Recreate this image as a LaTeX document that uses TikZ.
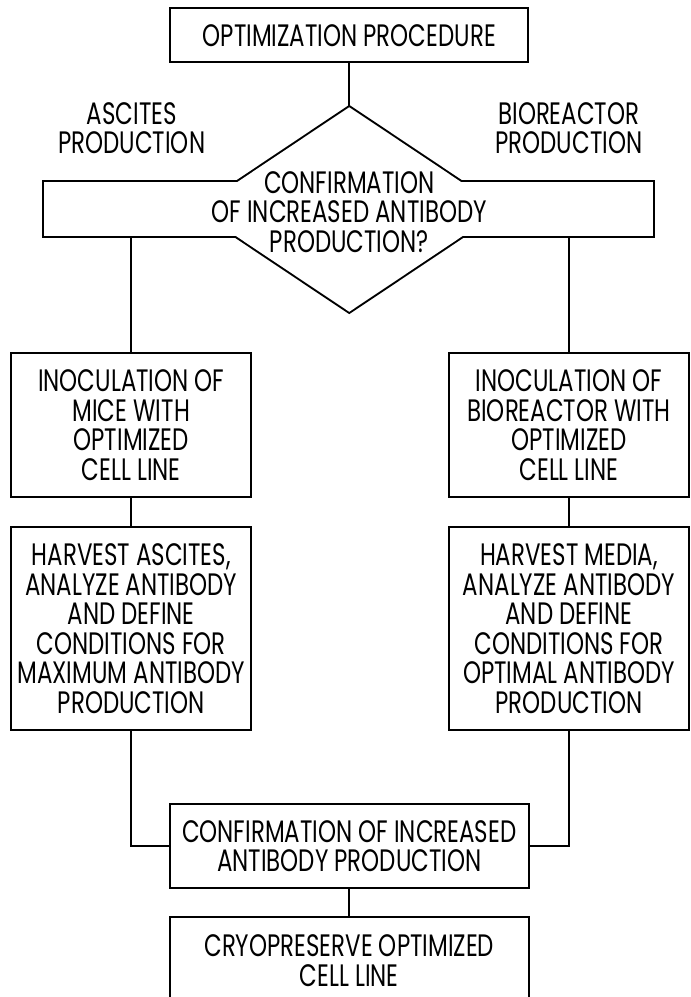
\documentclass[tikz,border=0pt]{standalone}
\usepackage{fontspec}
\setmainfont{Poppins}[FakeStretch=0.74]
\usepackage{tikz}
\usetikzlibrary{shapes.geometric}

\begin{document}
\begin{tikzpicture}[x=1pt,y=-1pt,line width=2pt,
    font=\fontsize{31pt}{29.5pt}\selectfont,
    box/.style={draw,rectangle,inner sep=0,outer sep=0,align=center},
    txt/.style={inner sep=0,align=center}]
    \path[use as bounding box,clip] (0,0) rectangle (691,997);

    \node[box,minimum width=358pt,minimum height=54pt] (opt) at (349.25,35.3) {OPTIMIZATION PROCEDURE};
    \node[txt] (asc) at (131.7,128) {ASCITES\\PRODUCTION};
    \node[txt] (bio) at (568.8,128) {BIOREACTOR\\PRODUCTION};

    \node[box,line width=4pt,minimum width=609pt,minimum height=54pt] (wide) at (348.5,209) {};
    \node[draw,diamond,inner sep=0,outer sep=0,line width=4pt,minimum width=306pt,minimum height=204.5pt] (dia) at (349.25,209.5) {};
    \fill[white] (wide.north west) rectangle (wide.south east);
    \fill[white] (dia.north) -- (dia.east) -- (dia.south) -- (dia.west) -- cycle;
    \node[txt] (q) at (349.25,212) {CONFIRMATION\\OF INCREASED ANTIBODY\\PRODUCTION?};

    \node[box,minimum width=240pt,minimum height=144pt] (inocL) at (131.25,425) {INOCULATION OF\\MICE WITH\\OPTIMIZED\\CELL LINE};
    \node[box,minimum width=240pt,minimum height=203pt] (harvL) at (131.25,628.5) {HARVEST ASCITES,\\ANALYZE ANTIBODY\\AND DEFINE\\CONDITIONS FOR\\MAXIMUM ANTIBODY\\PRODUCTION};
    \node[box,minimum width=240pt,minimum height=144pt] (inocR) at (569,425) {INOCULATION OF\\BIOREACTOR WITH\\OPTIMIZED\\CELL LINE};
    \node[box,minimum width=240pt,minimum height=203pt] (harvR) at (569,628.5) {HARVEST MEDIA,\\ANALYZE ANTIBODY\\AND DEFINE\\CONDITIONS FOR\\OPTIMAL ANTIBODY\\PRODUCTION};
    \node[box,minimum width=359.5pt,minimum height=84pt] (conf) at (349.25,846) {CONFIRMATION OF INCREASED\\ANTIBODY PRODUCTION};
    \node[box,minimum width=359.5pt,minimum height=86.4pt] (cryo) at (349.25,960.5) {CRYOPRESERVE OPTIMIZED\\CELL LINE};

    \draw (opt.south) -- (dia.north);
    \draw (inocL.north) -- (inocL.north |- wide.south);
    \draw (inocR.north) -- (inocR.north |- wide.south);
    \draw (inocL.south) -- (harvL.north);
    \draw (inocR.south) -- (harvR.north);
    \draw (harvL.south) |- (conf.west);
    \draw (harvR.south) |- (conf.east);
    \draw (conf.south) -- (cryo.north);
\end{tikzpicture}
\end{document}
